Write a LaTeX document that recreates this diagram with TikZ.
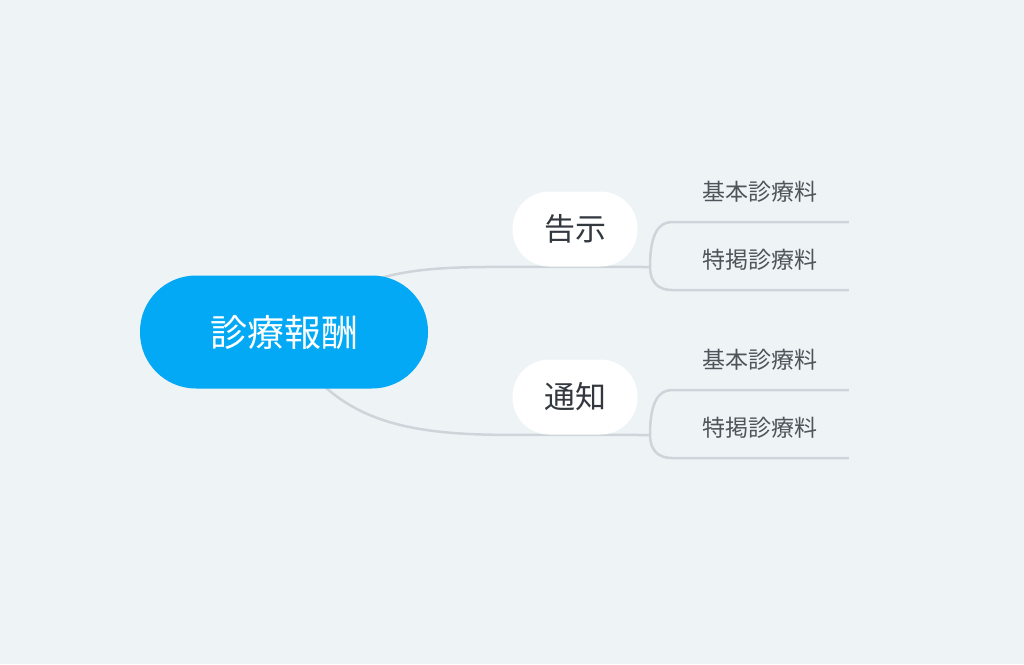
\documentclass[tikz,border=0pt]{standalone}
\usepackage{fontspec}
\newfontfamily\cjk{Noto Sans CJK JP}
\usepackage{tikz}
\usetikzlibrary{positioning,backgrounds}

\definecolor{bgcol}{HTML}{EEF3F6}
\definecolor{rootcol}{HTML}{03A9F4}
\definecolor{linecol}{HTML}{CFD4DA}
\definecolor{topictext}{HTML}{33383F}
\definecolor{leaftext}{HTML}{4F545A}

\begin{document}
\begin{tikzpicture}[x=1pt,y=-1pt,thick,
  root/.style={fill=rootcol,text=white,rounded corners=56pt,inner sep=0pt,
    minimum width=288pt,minimum height=113pt,font=\cjk\fontsize{37}{40}\selectfont},
  topic/.style={fill=white,text=topictext,rounded corners=37pt,inner sep=0pt,
    minimum width=125pt,minimum height=75pt,font=\cjk\fontsize{31}{34}\selectfont},
  leaf/.style={anchor=south west,text=leaftext,inner sep=0pt,
    minimum width=176pt,minimum height=60pt,font=\cjk\fontsize{23}{26}\selectfont},
  branch/.style={draw=linecol,line width=2.5pt}]

	\useasboundingbox (0,0) rectangle (1024,664);
	\begin{scope}[on background layer]
	\fill[bgcol] (0,0) rectangle (1024,664);
	\end{scope}

	% The graph
	\node [root] at (284,332) (R) {診療報酬};
	\node [topic] at (575,229) (kokuji) {告示};
	\node [topic] at (575,397) (tsuchi) {通知};

	\node [leaf] at (672,222) (kokuji1) {基本診療料};
	\node [leaf] at (672,290) (kokuji2) {特掲診療料};
	\node [leaf] at (672,390) (tsuchi1) {基本診療料};
	\node [leaf] at (672,458) (tsuchi2) {特掲診療料};

	\coordinate (jk) at (650,267);
	\coordinate (jt) at (650,435);

	% Graph edges
	\begin{scope}[on background layer]
	\draw[branch] (R.center) .. controls (360,267) and (420,267) .. (kokuji.south west) -- (jk);
	\draw[branch] (R.center) .. controls (330,420) and (400,435) .. (tsuchi.south west) -- (jt);

	\draw[branch] (jk) .. controls (650,235) and (658,222) .. (kokuji1.south west) -- (kokuji1.south east);
	\draw[branch] (jk) .. controls (650,282) and (658,290) .. (kokuji2.south west) -- (kokuji2.south east);
	\draw[branch] (jt) .. controls (650,403) and (658,390) .. (tsuchi1.south west) -- (tsuchi1.south east);
	\draw[branch] (jt) .. controls (650,450) and (658,458) .. (tsuchi2.south west) -- (tsuchi2.south east);
	\end{scope}

\end{tikzpicture}
\end{document}
